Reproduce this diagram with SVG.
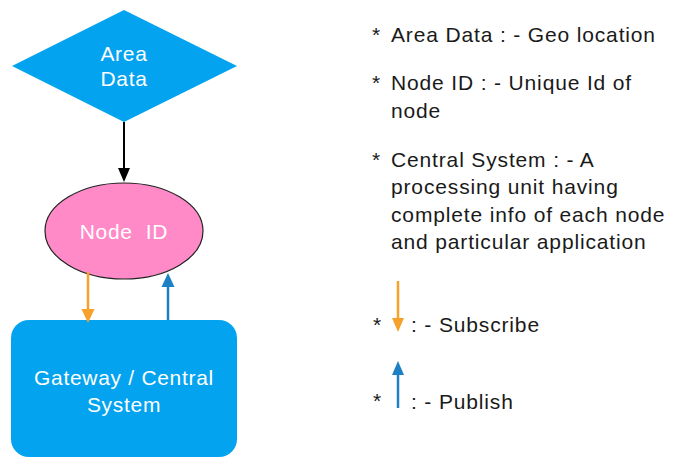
<svg xmlns="http://www.w3.org/2000/svg" width="673" height="459" viewBox="0 0 673 459">
<style>
.lbl{font-family:"Liberation Sans",Arial,Helvetica,sans-serif;font-size:21px;letter-spacing:0.7px;fill:#ffffff;text-anchor:middle}
.txt{font-family:"Liberation Sans",Arial,Helvetica,sans-serif;font-size:21px;letter-spacing:0.85px;fill:#1a1a1a}
.shape{fill:#03A3F0}
</style>
<rect width="673" height="459" fill="#fff"/>
<g id="area-data">
<polygon class="shape" points="124,10 237,66 124,122 12,66"/>
<text class="lbl" x="124" y="61">Area</text>
<text class="lbl" x="124" y="86">Data</text>
</g>
<g id="node-id">
<ellipse cx="124" cy="231" rx="79" ry="48" fill="#FF8AC7" stroke="#222" stroke-width="1.2"/>
<text class="lbl" x="124" y="239" xml:space="preserve">Node  ID</text>
</g>
<g id="gateway">
<rect class="shape" x="11" y="320" width="226" height="137" rx="18"/>
<text class="lbl" x="124" y="385">Gateway / Central</text>
<text class="lbl" x="124" y="412">System</text>
</g>
<g id="connectors">
<line x1="124" y1="122" x2="124" y2="170" stroke="#000" stroke-width="2"/>
<polygon points="118,168 130,168 124,182" fill="#000"/>
<line x1="88" y1="272" x2="88" y2="311" stroke="#F7A12C" stroke-width="2.5"/>
<polygon points="81.5,309 94.5,309 88,323" fill="#F7A12C"/>
<line x1="168" y1="320" x2="168" y2="285" stroke="#1D7FC4" stroke-width="2.5"/>
<polygon points="161.5,287 174.5,287 168,273" fill="#1D7FC4"/>
</g>
<g id="legend">
<text class="txt" x="372" y="42">* <tspan x="391">Area Data : - Geo location</tspan></text>
<text class="txt" x="372" y="90">* <tspan x="391">Node ID : - Unique Id of</tspan></text>
<text class="txt" x="391" y="118">node</text>
<text class="txt" x="372" y="167">* <tspan x="391">Central System : - A</tspan></text>
<text class="txt" x="391" y="194">processing unit having</text>
<text class="txt" x="391" y="222">complete info of each node</text>
<text class="txt" x="391" y="249">and particular application</text>
<text class="txt" x="373" y="332">*</text>
<line x1="398" y1="281" x2="398" y2="320" stroke="#F7A12C" stroke-width="2.5"/>
<polygon points="392,318 404,318 398,332" fill="#F7A12C"/>
<text class="txt" x="411" y="332">: - Subscribe</text>
<text class="txt" x="373" y="408">*</text>
<line x1="398" y1="408" x2="398" y2="373" stroke="#1D7FC4" stroke-width="2.5"/>
<polygon points="392,375 404,375 398,361" fill="#1D7FC4"/>
<text class="txt" x="411" y="409">: - Publish</text>
</g>
</svg>
